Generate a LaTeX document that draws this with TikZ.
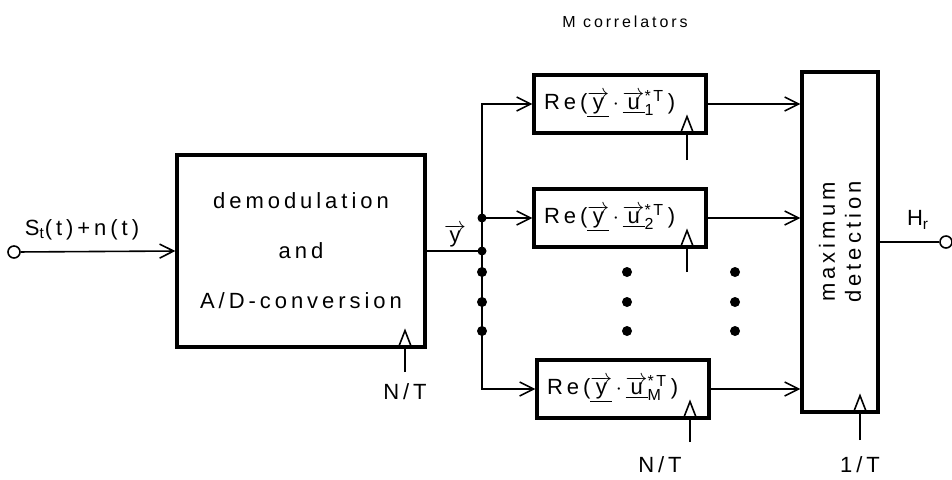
\documentclass[tikz,border=0pt]{standalone}
\usepackage{fontspec}
\setmainfont{Liberation Sans}[LetterSpace=18]
\usetikzlibrary{arrows.meta}
\newcommand{\uvec}[1]{$\underline{\overrightarrow{\hbox{#1}}}$}
\newcommand{\corrtxt}[1]{Re(\uvec{y}\,$\cdot$\,\uvec{u}$^{\hbox{\footnotesize *\,T}}_{\hbox{\footnotesize #1}}$\,)}
\begin{document}
\begin{tikzpicture}[x=0.5pt,y=-0.5pt,>={Straight Barb[length=7pt,width=7pt]},
  line width=0.8pt, font=\fontsize{11}{13}\selectfont,
  box/.style={draw, rectangle, line width=1.6pt},
  corr/.style={box, minimum width=86pt, minimum height=29pt, inner sep=0pt, text width=76pt, align=left}]
\useasboundingbox (0,0) rectangle (952,479);
\node[circle, draw, inner sep=0pt, minimum size=6pt] (in) at (14,252) {};
\node[box, minimum width=124pt, minimum height=96pt, align=center] (demod) at (301,251) {demodulation\\[12pt]and\\[12pt]A/D-conversion};
\node[corr] (re1) at (620,104) {\corrtxt{1}};
\node[corr] (re2) at (620,218) {\corrtxt{2}};
\node[corr] (reM) at (623,389) {\corrtxt{M}};
\node[box, minimum width=38pt, minimum height=170pt] (maxdet) at (840,242) {};
\node[rotate=90, align=center] (maxtxt) at (maxdet.center) {maximum\\detection};
\node[circle, draw, inner sep=0pt, minimum size=6pt] (out) at (946,242) {};
% labels
\node (sig) at (82,230) {S\textsubscript{t}(t)+n(t)};
\node (yvec) at (455,238) {\uvec{y}};
\node[font=\fontsize{8}{10}\selectfont] (mcorr) at (625,22) {M correlators};
\node (hr) at (918,220) {H\textsubscript{r}};
\node (nt1) at (405,392) {N/T};
\node (nt2) at (660,465) {N/T};
\node (onet) at (860,465) {1/T};
% bus
\coordinate (j1) at (482,251);
\coordinate (j2) at (482,218);
\draw[->] (in) -- (demod.west);
\draw (demod.east) -- (j1);
\draw[->] (j1) |- (re1.west);
\draw[->] (j1) |- (reM.west);
\draw[->] (j2) -- (re2.west);
\fill (j1) circle (4.5);
\fill (j2) circle (4.5);
\draw[->] (re1.east) -- (re1.east -| maxdet.west);
\draw[->] (re2.east) -- (re2.east -| maxdet.west);
\draw[->] (reM.east) -- (reM.east -| maxdet.west);
\draw (maxdet.east) -- (out);
% clock inputs
\foreach \b/\cx/\ey in {demod/405/372, re1/687/160, re2/687/272, reM/690/442, maxdet/860/440} {
  \coordinate (c-\b) at (\cx,\ey);
  \draw (c-\b) -- (c-\b |- \b.south);
  \draw ([xshift=-3.5pt]c-\b |- \b.south) -- ([yshift=9pt]c-\b |- \b.south) -- ([xshift=3.5pt]c-\b |- \b.south);
}
% dots
\foreach \dx in {482,627,735}
  \foreach \dy in {272,302,331}
    \fill (\dx,\dy) circle (5);
\end{tikzpicture}
\end{document}
